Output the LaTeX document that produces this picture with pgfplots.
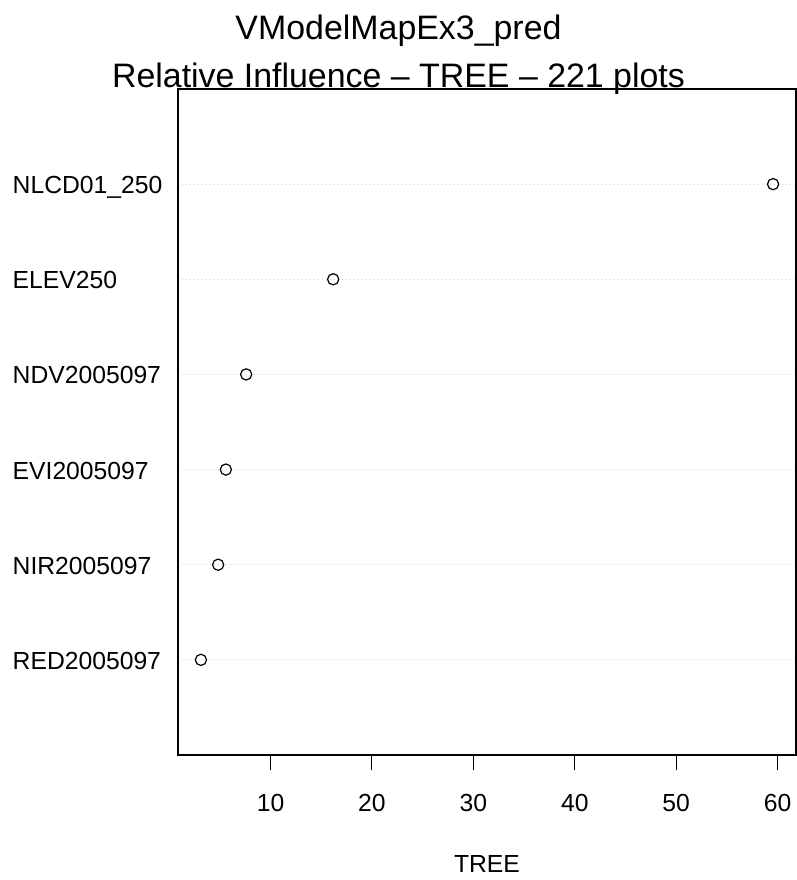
\documentclass[border=0pt]{standalone}
\usepackage{fontspec}
\setmainfont{Liberation Sans}
\usepackage{pgfplots}
\pgfplotsset{compat=1.18}
\definecolor{rlightgray}{RGB}{211,211,211}
\begin{document}
\begin{tikzpicture}
\useasboundingbox (0,0) rectangle (797pt,880pt);
\begin{axis}[
  at={(178pt,125pt)}, anchor=south west,
  scale only axis, width=618pt, height=666pt,
  xmin=0.88, xmax=61.81, ymin=0, ymax=7,
  axis line style={line width=1.1pt, black},
  tick align=outside,
  major tick length=15.5pt,
  every tick/.style={line width=1.1pt, black},
  xtick={10,20,30,40,50,60},
  xtick pos=bottom,
  ytick={1,2,3,4,5,6},
  yticklabels={RED2005097,NIR2005097,EVI2005097,NDV2005097,ELEV250,NLCD01\_250},
  ytick style={draw=none},
  ymajorgrids,
  major grid style={rlightgray, line width=1.1pt, dash pattern=on 1.1pt off 2.9pt},
  /pgf/number format/assume math mode=true,
  tick label style={font=\fontsize{24.7}{29.6}\selectfont, inner sep=0pt},
  xticklabel style={anchor=north, yshift=-23.5pt},
  yticklabel style={anchor=base west, xshift=-150pt, yshift=-9.5pt},
  xlabel={TREE},
  xlabel style={font=\fontsize{24.7}{29.6}\selectfont, inner sep=0pt, at={(axis description cs:0.5,0)}, anchor=base, yshift=-117pt},
  title={VModelMapEx3\_pred},
  title style={font=\fontsize{33.9}{40}\selectfont, inner sep=0pt, at={(axis description cs:0.3568,1)}, anchor=base, yshift=43.7pt},
  clip=false,
]
\addplot[only marks, mark=o, mark size=5.6pt, mark options={line width=1.2pt, black}] coordinates {
  (3.14,1) (4.84,2) (5.60,3) (7.60,4) (16.18,5) (59.55,6)
};
\node[font=\fontsize{33.9}{40}\selectfont, inner sep=0pt, anchor=base] at (axis description cs:0.3568,1) [yshift=1.7pt] {Relative Influence – TREE – 221 plots};
\end{axis}
\end{tikzpicture}
\end{document}
